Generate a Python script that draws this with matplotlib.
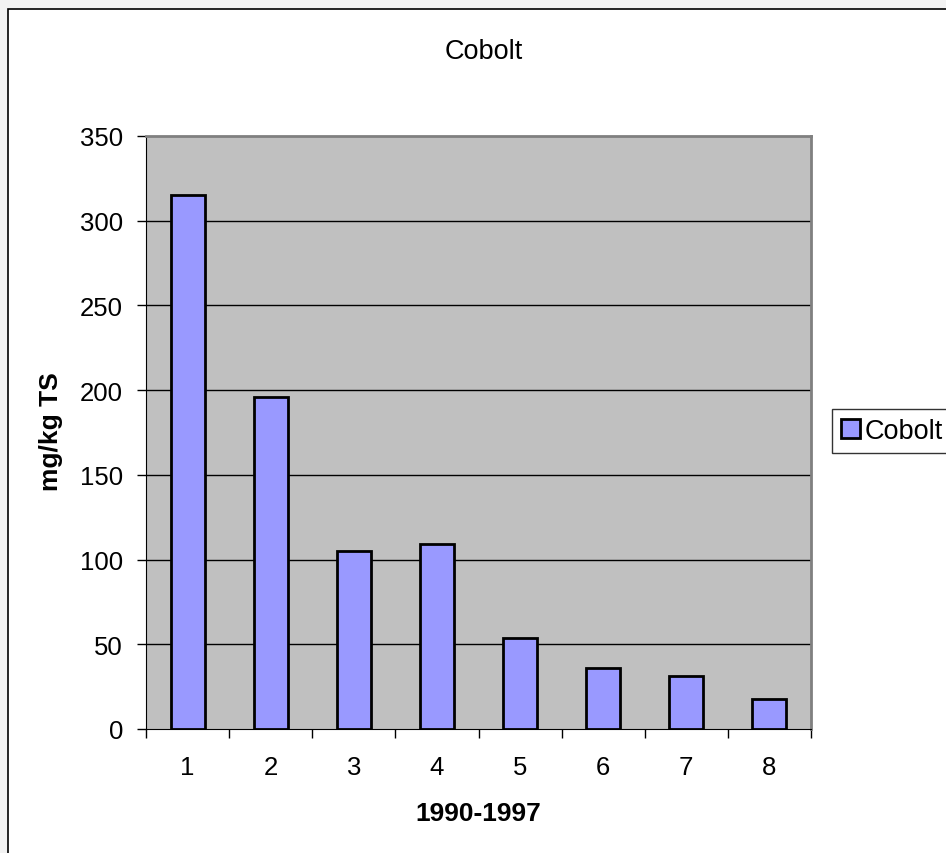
import matplotlib
matplotlib.use('Agg')
import matplotlib.pyplot as plt
from matplotlib.patches import Rectangle

plt.rcParams['font.family'] = ['Liberation Sans', 'DejaVu Sans']

# data
years = ['1', '2', '3', '4', '5', '6', '7', '8']
cobolt = [315, 196, 105, 109, 54, 36, 31, 18]
y_ticks = [0, 50, 100, 150, 200, 250, 300, 350]

W, H = 946, 854
fig = plt.figure(figsize=(W / 100, H / 100), dpi=100)
fig.patch.set_facecolor('#f2f2f2')

# white chart area with a black frame (runs off the right and bottom edges)
frame = Rectangle((8 / W, -0.05), 1.05, 1 - 10 / H + 0.05,
                  transform=fig.transFigure, facecolor='white',
                  edgecolor='black', linewidth=1.2, zorder=-5)
fig.patches.append(frame)

ax = fig.add_axes([146 / W, 1 - 730 / H, 665 / W, 593 / H])
ax.set_facecolor('#c0c0c0')

x = range(len(years))
bars = ax.bar(x, cobolt, width=0.41, color='#9999ff', edgecolor='black',
              linewidth=2, zorder=3, label='Cobolt')

ax.set_xlim(-0.5, len(years) - 0.5)
ax.set_ylim(0, 350)
ax.set_yticks(y_ticks)
ax.set_yticklabels([str(v) for v in y_ticks], fontsize=18.5)
ax.set_xticks(list(x))
ax.set_xticklabels(years, fontsize=18.5)
ax.tick_params(axis='x', length=0, pad=19)
ax.set_xticks([i - 0.5 for i in range(len(years) + 1)], minor=True)
ax.tick_params(axis='x', which='minor', length=6.5, width=1, color='black')
ax.tick_params(axis='y', length=6.5, width=1, pad=10)

for v in y_ticks[1:-1]:
    ax.axhline(v, color='black', linewidth=1, zorder=1)

ax.spines['top'].set_color('#808080')
ax.spines['right'].set_color('#808080')
ax.spines['top'].set_linewidth(2)
ax.spines['right'].set_linewidth(2)
ax.spines['left'].set_color('black')
ax.spines['bottom'].set_color('black')

ax.set_ylabel('mg/kg TS', fontsize=19, fontweight='bold')
ax.yaxis.set_label_coords((63 - 146) / 665, (730 - 432) / 593)
ax.set_xlabel('1990-1997', fontsize=19, fontweight='bold')
ax.xaxis.set_label_coords((478 - 146) / 665, (730 - 802) / 593)

fig.text(484 / W, 1 - 52 / H, 'Cobolt', fontsize=19.5, ha='center', va='center')

leg = fig.legend(handles=[bars], labels=['Cobolt'], loc='upper left',
                 bbox_to_anchor=(832 / W, 1 - 410 / H), fontsize=19.5,
                 frameon=True, fancybox=False, edgecolor='black',
                 handlelength=0.7, handleheight=0.7, handletextpad=0.18,
                 borderpad=0.33, borderaxespad=0)
leg.get_frame().set_linewidth(1)

fig.savefig('out.png', dpi=100, facecolor=fig.get_facecolor())
